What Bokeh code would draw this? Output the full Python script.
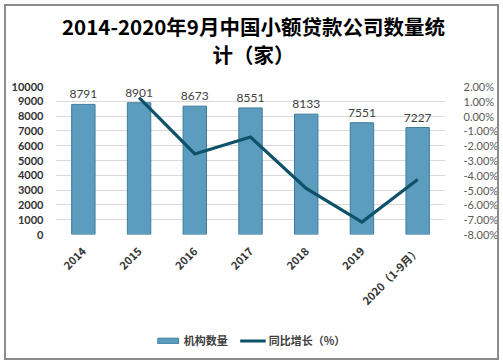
from bokeh.plotting import figure
from bokeh.layouts import column
from bokeh.models import (ColumnDataSource, Range1d, LinearAxis, Div, Legend, LegendItem,
                          FixedTicker, CustomJSTickFormatter, LabelSet, FactorRange)
from bokeh.embed import file_html
from bokeh.resources import INLINE
from bokeh.core.properties import value
import math

title_lines = ["2014-2020年9月中国小额贷款公司数量统", "计（家）"]
categories = ["2014", "2015", "2016", "2017", "2018", "2019", "2020（1-9月）"]
counts = [8791, 8901, 8673, 8551, 8133, 7551, 7227]
growth_cats = ["2015", "2016", "2017", "2018", "2019", "2020（1-9月）"]
growth = [1.25, -2.56, -1.41, -4.89, -7.16, -4.29]
left_ticks = list(range(0, 10001, 1000))
right_ticks = [2, 1, 0, -1, -2, -3, -4, -5, -6, -7, -8]
series_names = ["机构数量", "同比增长（%）"]

FONT = "Lato"
CJK = "Noto Sans CJK SC"
BAR_FILL = "#5c9cbe"
BAR_LINE = "#3f7c9b"
LINE_COLOR = "#0d5269"

# title block
title = Div(text="<br>".join(title_lines), width=503, height=72, margin=0,
            styles={"position": "relative", "z-index": "-1",
                    "font-family": "'Noto Sans CJK SC', sans-serif",
                    "font-size": "20.5px", "font-weight": "bold", "color": "#000000",
                    "line-height": "28px", "text-align": "center",
                    "padding-top": "12px", "padding-left": "4px",
                    "box-sizing": "border-box", "white-space": "nowrap"})

p = figure(width=503, height=244, x_range=FactorRange(*categories, range_padding=0.0),
           y_range=Range1d(0, 10000), output_backend="svg", toolbar_location=None,
           min_border_left=55, min_border_right=58, min_border_top=14, min_border_bottom=79)
p.extra_y_ranges = {"pct": Range1d(-8, 2)}
p.outline_line_color = None
p.background_fill_color = "white"
p.border_fill_color = "white"

src = ColumnDataSource(dict(cat=categories, val=counts, lab=[str(v) for v in counts]))
bars = p.vbar(x="cat", top="val", width=0.42, source=src,
              fill_color=BAR_FILL, line_color=BAR_LINE, line_width=1)

lsrc = ColumnDataSource(dict(cat=growth_cats, g=growth))
line = p.line(x="cat", y="g", source=lsrc, y_range_name="pct",
              line_color=LINE_COLOR, line_width=3.2, line_join="miter")

labels = LabelSet(x="cat", y="val", text="lab", source=src, y_offset=6,
                  text_align="center", text_baseline="bottom",
                  text_font=value(FONT), text_font_size="12px", text_color="#404040")
p.add_layout(labels)

# grid
p.xgrid.grid_line_color = None
p.ygrid.grid_line_color = "#d9d9d9"
p.ygrid.ticker = FixedTicker(ticks=left_ticks)

# left axis
ya = p.yaxis[0]
ya.ticker = FixedTicker(ticks=left_ticks)
ya.axis_line_color = None
ya.major_tick_line_color = None
ya.minor_tick_line_color = None
ya.major_label_standoff = 6
ya.major_label_text_font = FONT
ya.major_label_text_font_style = "bold"
ya.major_label_text_font_size = "11px"
ya.major_label_text_color = "#333333"

# right axis
ra = LinearAxis(y_range_name="pct", ticker=FixedTicker(ticks=right_ticks),
                formatter=CustomJSTickFormatter(code="return tick.toFixed(2) + '%';"))
ra.axis_line_color = None
ra.major_tick_line_color = None
ra.minor_tick_line_color = None
ra.major_label_standoff = 12
ra.major_label_text_font = FONT
ra.major_label_text_font_size = "11px"
ra.major_label_text_color = "#595959"
p.add_layout(ra, "right")

# x axis
xa = p.xaxis[0]
xa.axis_line_color = None
xa.major_tick_line_color = None
xa.minor_tick_line_color = None
xa.major_label_orientation = math.pi / 4
xa.major_label_text_font = CJK
xa.major_label_text_font_style = "bold"
xa.major_label_text_font_size = "11px"
xa.major_label_text_color = "#333333"
xa.major_label_standoff = 8

# legend in its own strip below the chart (its renderers sit outside the visible range)
lg = figure(width=503, height=48, output_backend="svg", toolbar_location=None,
            x_range=FactorRange(*categories), y_range=Range1d(20000, 20001),
            min_border_left=0, min_border_right=0, min_border_top=0, min_border_bottom=0)
lg.axis.visible = False
lg.grid.visible = False
lg.outline_line_color = None
lg_bar = lg.vbar(x="cat", top="val", width=0.42, source=src,
                 fill_color=BAR_FILL, line_color=BAR_LINE)
lg_line = lg.line(x="cat", y="g", source=lsrc, line_color=LINE_COLOR, line_width=3.2)
legend = Legend(items=[LegendItem(label=series_names[0], renderers=[lg_bar]),
                       LegendItem(label=series_names[1], renderers=[lg_line])],
                orientation="horizontal", location="center",
                label_text_font=CJK, label_text_font_size="11px",
                label_text_font_style="bold", label_text_color="#404040",
                glyph_width=26, glyph_height=7, label_standoff=3, spacing=12,
                background_fill_alpha=0, border_line_color=None, padding=0, margin=0)
lg.add_layout(legend)

for f in (p, lg):
    f.styles = {"position": "relative", "z-index": "-1"}

layout = column(title, p, lg, spacing=0)
layout.styles = {"outline": "2px solid #8c8c8c", "outline-offset": "-6px"}

open("out.html", "w").write(file_html(layout, INLINE))
